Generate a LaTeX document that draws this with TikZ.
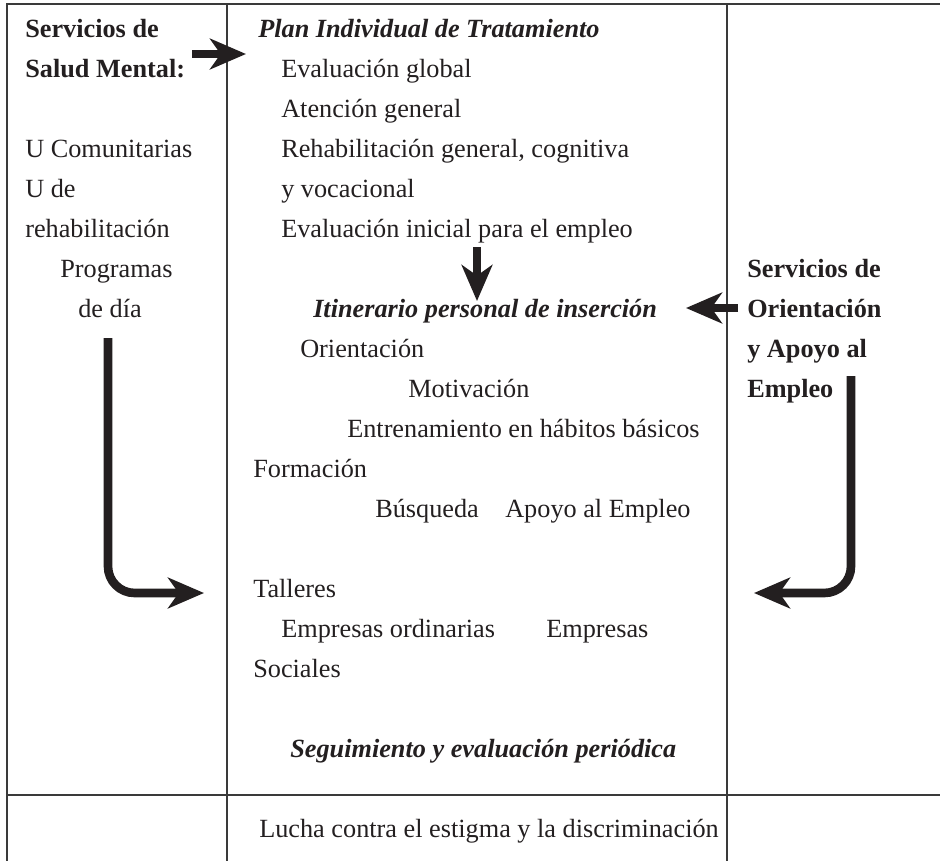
\documentclass[tikz,border=0pt]{standalone}
\usepackage{fontspec}
\setmainfont{Liberation Serif}
\usetikzlibrary{arrows.meta}
\definecolor{ink}{HTML}{231F20}
\definecolor{rulegray}{HTML}{3A3A3A}
\begin{document}
\begin{tikzpicture}[x=0.75pt,y=-0.75pt,
  txt/.style={anchor=base west, inner sep=0pt, text=ink, font=\fontsize{19.7}{24}\selectfont},
  hd/.style={txt, font=\fontsize{19.7}{24}\selectfont\bfseries},
  hdi/.style={txt, font=\fontsize{19.7}{24}\selectfont\bfseries\itshape},
  frame/.style={draw=rulegray, line width=1.9pt},
  gridline/.style={draw=rulegray, line width=0.8pt},
  bigarrow/.style={draw=ink, line width=6.5pt, -{Stealth[length=27pt, width=23pt, inset=8pt]}},
]
\useasboundingbox (0,0) rectangle (940,861);

% table rules
\draw[gridline] (227,4) -- (227,861);
\draw[gridline] (727,4) -- (727,861);
\draw[gridline, line width=1.2pt] (7,795) -- (940,795);
\draw[frame] (940,4) -- (7,4) -- (7,861);

% left column: mental health services
\node[hd]  (ssm1) at (25,37)  {Servicios de};
\node[hd]  (ssm2) at (25,77)  {Salud Mental:};
\node[txt] (uc)   at (25,157) {U Comunitarias};
\node[txt] (ud)   at (25,197) {U de};
\node[txt] (ur)   at (25,237) {rehabilitación};
\node[txt] (pg)   at (60,277) {Programas};
\node[txt] (pd)   at (78,317) {de día};

% middle column: treatment plan and insertion itinerary
\node[hdi] (plan) at (258,37)  {Plan Individual de Tratamiento};
\node[txt] (eg)   at (281,77)  {Evaluación global};
\node[txt] (ag)   at (281,117) {Atención general};
\node[txt] (rg)   at (281,157) {Rehabilitación general, cognitiva};
\node[txt] (yv)   at (281,197) {y vocacional};
\node[txt] (ei)   at (281,237) {Evaluación inicial para el empleo};
\node[hdi] (itin) at (313,317) {Itinerario personal de inserción};
\node[txt] (ori)  at (300,357) {Orientación};
\node[txt] (mot)  at (408,397) {Motivación};
\node[txt] (ent)  at (347,437) {Entrenamiento en hábitos básicos};
\node[txt] (form) at (253,477) {Formación};
\node[txt] (bus)  at (375,517) {Búsqueda};
\node[txt] (apo)  at (505,517) {Apoyo al Empleo};
\node[txt] (tal)  at (253,597) {Talleres};
\node[txt] (eo)   at (281,637) {Empresas ordinarias};
\node[txt] (emp)  at (546,637) {Empresas};
\node[txt] (soc)  at (253,677) {Sociales};
\node[hdi] (seg)  at (290,757) {Seguimiento y evaluación periódica};
\node[txt] (luc)  at (259,837) {Lucha contra el estigma y la discriminación};

% right column: employment guidance services
\node[hd] (soa1) at (747,277) {Servicios de};
\node[hd] (soa2) at (747,317) {Orientación};
\node[hd] (soa3) at (747,357) {y Apoyo al};
\node[hd] (soa4) at (747,397) {Empleo};

% arrow end points
\coordinate (a1s) at (192,54);
\coordinate (a1e) at (246,54);
\coordinate (a2s) at (477,247);
\coordinate (a2e) at (477,301);
\coordinate (a3s) at (738,308);
\coordinate (a3e) at (686,308);
\coordinate (a4s) at (108,338);
\coordinate (a4e) at (204,593);
\coordinate (a5s) at (851,376);
\coordinate (a5e) at (754,593);

% arrows
\draw[bigarrow] (a1s) -- (a1e);
\draw[bigarrow] (a2s) -- (a2e);
\draw[bigarrow] (a3s) -- (a3e);
\draw[bigarrow, rounded corners=20pt] (a4s) |- (a4e);
\draw[bigarrow, rounded corners=20pt] (a5s) |- (a5e);
\end{tikzpicture}
\end{document}
